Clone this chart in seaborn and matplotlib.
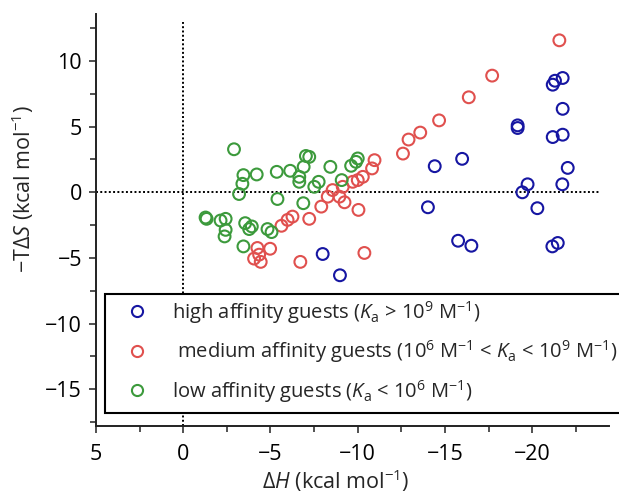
import numpy as np
import pandas as pd
import matplotlib
matplotlib.use("Agg")
import matplotlib.pyplot as plt
from matplotlib.lines import Line2D
from matplotlib.patches import Rectangle
from matplotlib.ticker import MultipleLocator
import seaborn as sns

# ---- data ----
high_dH = [-7.99, -8.98, -14.41, -15.98, -14.02, -15.75, -16.51, -19.16, -19.16,
           -19.73, -19.43, -20.29, -21.15, -21.46, -21.17, -21.3, -21.74, -21.74,
           -21.17, -21.74, -22.03, -21.72]
high_TdS = [-4.70, -6.32, 1.99, 2.55, -1.14, -3.69, -4.07, 5.10, 4.90,
            0.61, 0.00, -1.21, -4.12, -3.86, 8.20, 8.50, 8.71, 6.36,
            4.21, 4.39, 1.86, 0.61]

med_dH = [-10.96, -10.82, -10.29, -10.0, -9.71, -9.14, -8.56, -8.28, -8.95, -9.24,
          -7.91, -10.04, -7.22, -6.26, -5.98, -5.63, -4.98, -4.25, -4.06, -4.44,
          -4.35, -6.71, -10.38, -21.55, -17.7, -16.36, -14.66, -13.58, -12.91, -12.59]
med_TdS = [2.45, 1.82, 1.18, 0.93, 0.80, 0.42, 0.17, -0.33, -0.33, -0.76,
           -1.09, -1.34, -2.02, -1.85, -2.10, -2.55, -4.30, -4.24, -5.05, -5.30,
           -4.75, -5.30, -4.62, 11.58, 8.89, 7.24, 5.48, 4.55, 4.02, 2.95]

low_dH = [-2.91, -3.45, -4.21, -3.39, -3.2, -5.36, -6.13, -6.65, -6.65, -6.9,
          -7.03, -7.22, -7.76, -7.51, -8.43, -9.08, -9.62, -9.9, -10.0, -5.4,
          -6.88, -1.28, -1.34, -2.14, -2.43, -2.43, -2.37, -3.55, -3.93, -3.78,
          -4.83, -5.06, -3.45]
low_TdS = [3.28, 1.31, 1.36, 0.65, -0.13, 1.56, 1.64, 1.18, 0.80, 1.94,
           2.77, 2.70, 0.80, 0.42, 1.94, 0.93, 2.02, 2.32, 2.58, -0.51,
           -0.83, -1.92, -2.02, -2.15, -2.02, -2.86, -3.36, -2.35, -2.60, -2.80,
           -2.80, -3.03, -4.12]

groups = ["high", "medium", "low"]
labels = [r"high affinity guests ($\mathit{K}_\mathrm{a}$ > 10$^{9}$ M$^{-1}$)",
          r" medium affinity guests (10$^{6}$ M$^{-1}$ < $\mathit{K}_\mathrm{a}$ < 10$^{9}$ M$^{-1}$)",
          r"low affinity guests ($\mathit{K}_\mathrm{a}$ < 10$^{6}$ M$^{-1}$)"]
colors = {"high": "#1616a2", "medium": "#e0504e", "low": "#3c9a3c"}

df = pd.concat([
    pd.DataFrame({"dH": high_dH, "TdS": high_TdS, "group": "high"}),
    pd.DataFrame({"dH": med_dH, "TdS": med_TdS, "group": "medium"}),
    pd.DataFrame({"dH": low_dH, "TdS": low_TdS, "group": "low"}),
], ignore_index=True)

sns.set_style("ticks")
plt.rcParams["font.family"] = ["Open Sans", "DejaVu Sans"]
plt.rcParams["mathtext.fontset"] = "custom"
plt.rcParams["mathtext.rm"] = "Open Sans"
plt.rcParams["mathtext.it"] = "Open Sans:italic"
plt.rcParams["mathtext.default"] = "regular"

fig = plt.figure(figsize=(6.19, 4.93), dpi=100)
ax = fig.add_axes([0.155, 0.136, 0.829, 0.836])

for g in ["high", "medium", "low"]:
    sub = df[df.group == g]
    sns.scatterplot(data=sub, x="dH", y="TdS", ax=ax, color=colors[g], s=72,
                    legend=False, zorder=3)
    coll = ax.collections[-1]
    coll.set_facecolors("none")
    coll.set_edgecolors(colors[g])
    coll.set_linewidths(1.5)

ax.set_xlim(5, -24.4)
ax.set_ylim(-17.8, 13.6)

ax.axhline(0, xmax=0.983, ls=(0, (1, 1.2)), color="black", lw=1.4, zorder=1)
ax.axvline(0, ymax=0.98, ls=(0, (1, 1.2)), color="black", lw=1.4, zorder=1)

ax.xaxis.set_major_locator(MultipleLocator(5))
ax.xaxis.set_minor_locator(MultipleLocator(2.5))
ax.yaxis.set_major_locator(MultipleLocator(5))
ax.yaxis.set_minor_locator(MultipleLocator(2.5))
ax.tick_params(which="both", direction="out", width=1.1, colors="#222222",
               labelcolor="black", labelsize=15.5)
ax.tick_params(which="major", length=5, pad=5)
ax.tick_params(axis="x", which="major", pad=8)
ax.tick_params(which="minor", length=4)

sns.despine(ax=ax)
for sp in ["left", "bottom"]:
    ax.spines[sp].set_linewidth(1.4)
    ax.spines[sp].set_color("#222222")

ax.set_xlabel(r"$\Delta\mathit{H}$ (kcal mol$^{-1}$)", fontsize=15.5)
ax.set_ylabel(r"$-$T$\Delta\mathit{S}$ (kcal mol$^{-1}$)", fontsize=15.5)
ax.xaxis.set_label_coords(0.468, -0.1)
ax.yaxis.set_label_coords(-0.117, 0.575)

# legend box: open on the right, running past the figure edge as in the reference
bx0, by0, bx1, by1 = 0.0175, 0.032, 1.1, 0.32
ax.add_patch(Rectangle((bx0, by0), bx1 - bx0, by1 - by0, transform=ax.transAxes,
                       facecolor="white", edgecolor="none", clip_on=False,
                       zorder=4))
ax.add_line(Line2D([bx1, bx0, bx0, bx1], [by1, by1, by0, by0],
                   transform=ax.transAxes, color="black", lw=1.5,
                   solid_joinstyle="miter", clip_on=False, zorder=4.5))

handles = [Line2D([], [], ls="none", marker="o", ms=8, mfc="none",
                  mec=colors[g], mew=1.5) for g in groups]
leg = ax.legend(handles, labels, loc="lower left",
                bbox_to_anchor=(bx0, by0), frameon=False,
                fontsize=14.5, borderpad=0.4, labelspacing=0.63,
                handletextpad=0.55, handlelength=2.4, borderaxespad=0)
leg.set_zorder(5)

fig.savefig("out.png", dpi=100)
